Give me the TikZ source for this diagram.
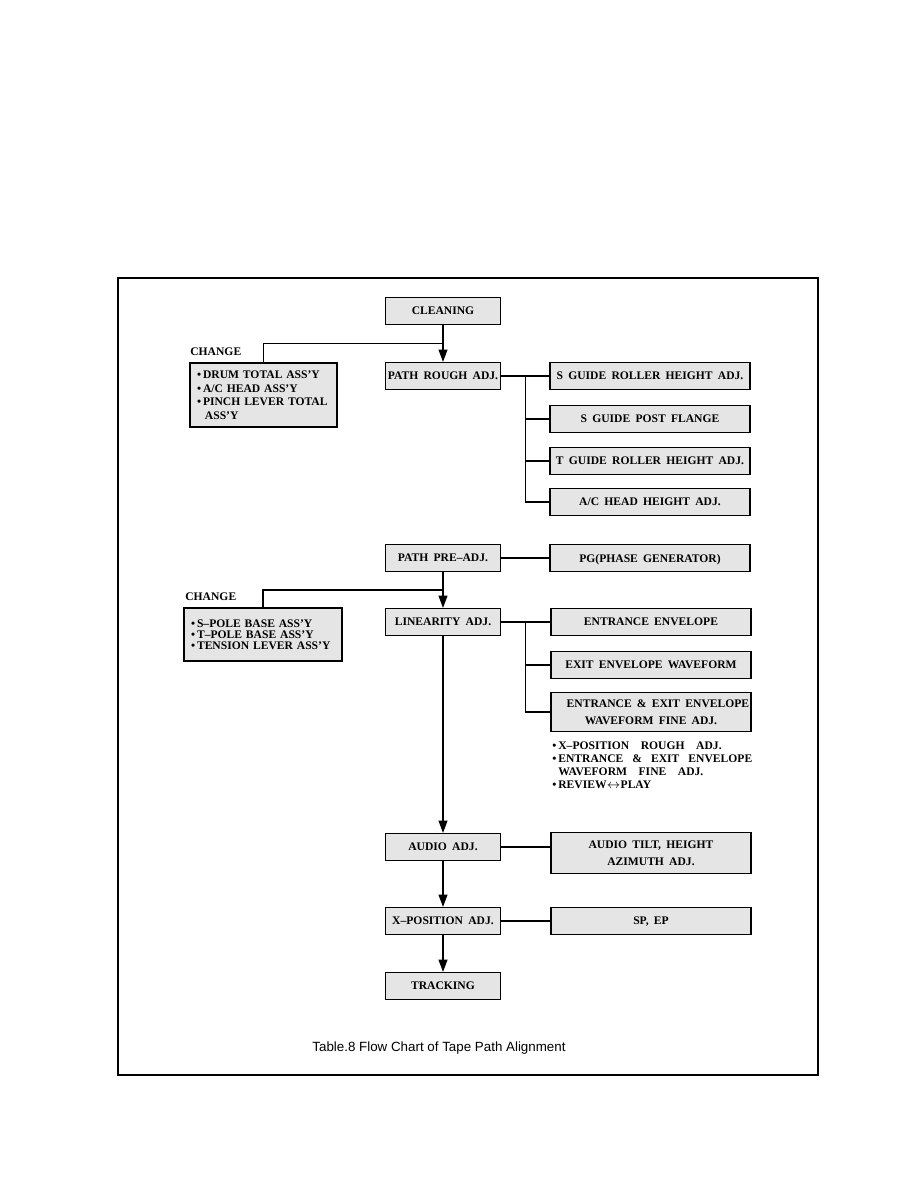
\documentclass[tikz,border=0pt]{standalone}
\usepackage{fontspec}
\setmainfont{Liberation Serif}[WordSpace=1.8]
\newfontfamily\capfont{Liberation Sans}
\usetikzlibrary{arrows.meta,calc}

\begin{document}
\begin{tikzpicture}[x=0.02cm, y=-0.02cm,
  box/.style={rectangle, draw, line width=0.6pt, fill=black!10, minimum width=2.3cm, minimum height=0.54cm, inner sep=1pt, text depth=0pt, font=\fontsize{6.6}{9.5}\selectfont\bfseries},
  side/.style={box, minimum width=4cm},
  multi/.style={side, align=center, text depth={}},
  change/.style={box, align=left, inner xsep=4pt, text depth={}, minimum width=#1, text width=#1-8pt},
  tag/.style={anchor=west, inner sep=0pt, font=\fontsize{6.6}{8}\selectfont\bfseries},
  flow/.style={line width=0.8pt, -{Triangle[length=7pt, width=5pt]}},
  link/.style={line width=0.8pt}
]
  \useasboundingbox (0,0) rectangle (918,1188);
  % Frame
  \draw[line width=0.6pt] (118,278) rectangle (818,1075);
  % Main column
  \node[box] (clean) at (443,311) {CLEANING};
  \node[box] (rough) at (443,376) {PATH ROUGH ADJ.};
  \node[box] (pre) at (443,558) {PATH PRE--ADJ.};
  \node[box] (lin) at (443,622) {LINEARITY ADJ.};
  \node[box] (audio) at (443,847) {AUDIO ADJ.};
  \node[box] (xpos) at (443,921) {X--POSITION ADJ.};
  \node[box] (track) at (443,986) {TRACKING};
  % Rough adjustment
  \node[side] (sroll) at (650,376) {S GUIDE ROLLER HEIGHT ADJ.};
  \node[side] (spost) at (650,419) {S GUIDE POST FLANGE};
  \node[side] (troll) at (650,461) {T GUIDE ROLLER HEIGHT ADJ.};
  \node[side] (ahead) at (650,502) {A/C HEAD HEIGHT ADJ.};
  % Pre adjustment
  \node[side] (pg) at (650,558) {PG(PHASE GENERATOR)};
  % Linearity
  \node[side] (entr) at (651,622) {ENTRANCE ENVELOPE};
  \node[side] (exit) at (651,665) {EXIT ENVELOPE WAVEFORM};
  \node[multi, minimum height=0.78cm] (fine) at (651,712) {\hspace*{1.2em}ENTRANCE \& EXIT ENVELOPE\\WAVEFORM FINE ADJ.};
  \node[anchor=north west, inner sep=0pt, text width=4cm, align=left, font=\fontsize{6.6}{7.4}\selectfont\bfseries] (notes) at (552,741)
    {\textbullet\,X--POSITION\quad ROUGH\quad ADJ.\\
     \textbullet\,ENTRANCE\hfill\&\hfill EXIT\hfill ENVELOPE\\
     \phantom{\textbullet\,}WAVEFORM\quad FINE\quad ADJ.\\
     \textbullet\,REVIEW$\leftrightarrow$PLAY};
  % Audio and X-position
  \node[multi, minimum height=0.82cm] (tilt) at (651,853) {AUDIO TILT, HEIGHT\\AZIMUTH ADJ.};
  \node[side] (spep) at (651,921) {SP, EP};
  % Parts to change
  \node[tag] (chlab1) at (190,352) {CHANGE};
  \node[change=2.94cm, minimum height=1.28cm, font=\fontsize{6.6}{7.7}\selectfont\bfseries] (chg1) at (263.5,395)
    {\textbullet\,DRUM TOTAL ASS'Y\\\textbullet\,A/C HEAD ASS'Y\\\textbullet\,PINCH LEVER TOTAL\\\phantom{\textbullet}\,\,ASS'Y};
  \node[tag] (chlab2) at (185,597) {CHANGE};
  \node[change=3.16cm, minimum height=1.06cm, font=\fontsize{6.6}{6.2}\selectfont\bfseries] (chg2) at (263,634.5)
    {\textbullet\,S--POLE BASE ASS'Y\\\textbullet\,T--POLE BASE ASS'Y\\\textbullet\,TENSION LEVER ASS'Y};
  % Flow arrows
  \draw[flow] (clean) -- (rough);
  \draw[flow] (pre) -- (lin);
  \draw[flow] (lin) -- (audio);
  \draw[flow] (audio) -- (xpos);
  \draw[flow] (xpos) -- (track);
  \draw[link] (chg1.north) |- ($(clean.south)!0.5!(rough.north)$);
  \draw[link] (chg2.north) |- ($(pre.south)!0.5!(lin.north)$);
  % Side branches
  \coordinate (bus1) at ($(rough.east)!0.5!(sroll.west)$);
  \draw[link] (rough) -- (sroll);
  \draw[link] (bus1) |- (spost.west);
  \draw[link] (bus1) |- (troll.west);
  \draw[link] (bus1) |- (ahead.west);
  \draw[link] (pre) -- (pg);
  \coordinate (bus2) at ($(lin.east)!0.5!(entr.west)$);
  \draw[link] (lin) -- (entr);
  \draw[link] (bus2) |- (exit.west);
  \draw[link] (bus2) |- (fine.west);
  \draw[link] (audio.east) -- (audio.east -| tilt.west);
  \draw[link] (xpos) -- (spep);
  % Caption
  \node[font=\capfont\fontsize{7.6}{10}\selectfont] (caption) at (439,1048) {Table.8 Flow Chart of Tape Path Alignment};
\end{tikzpicture}
\end{document}
